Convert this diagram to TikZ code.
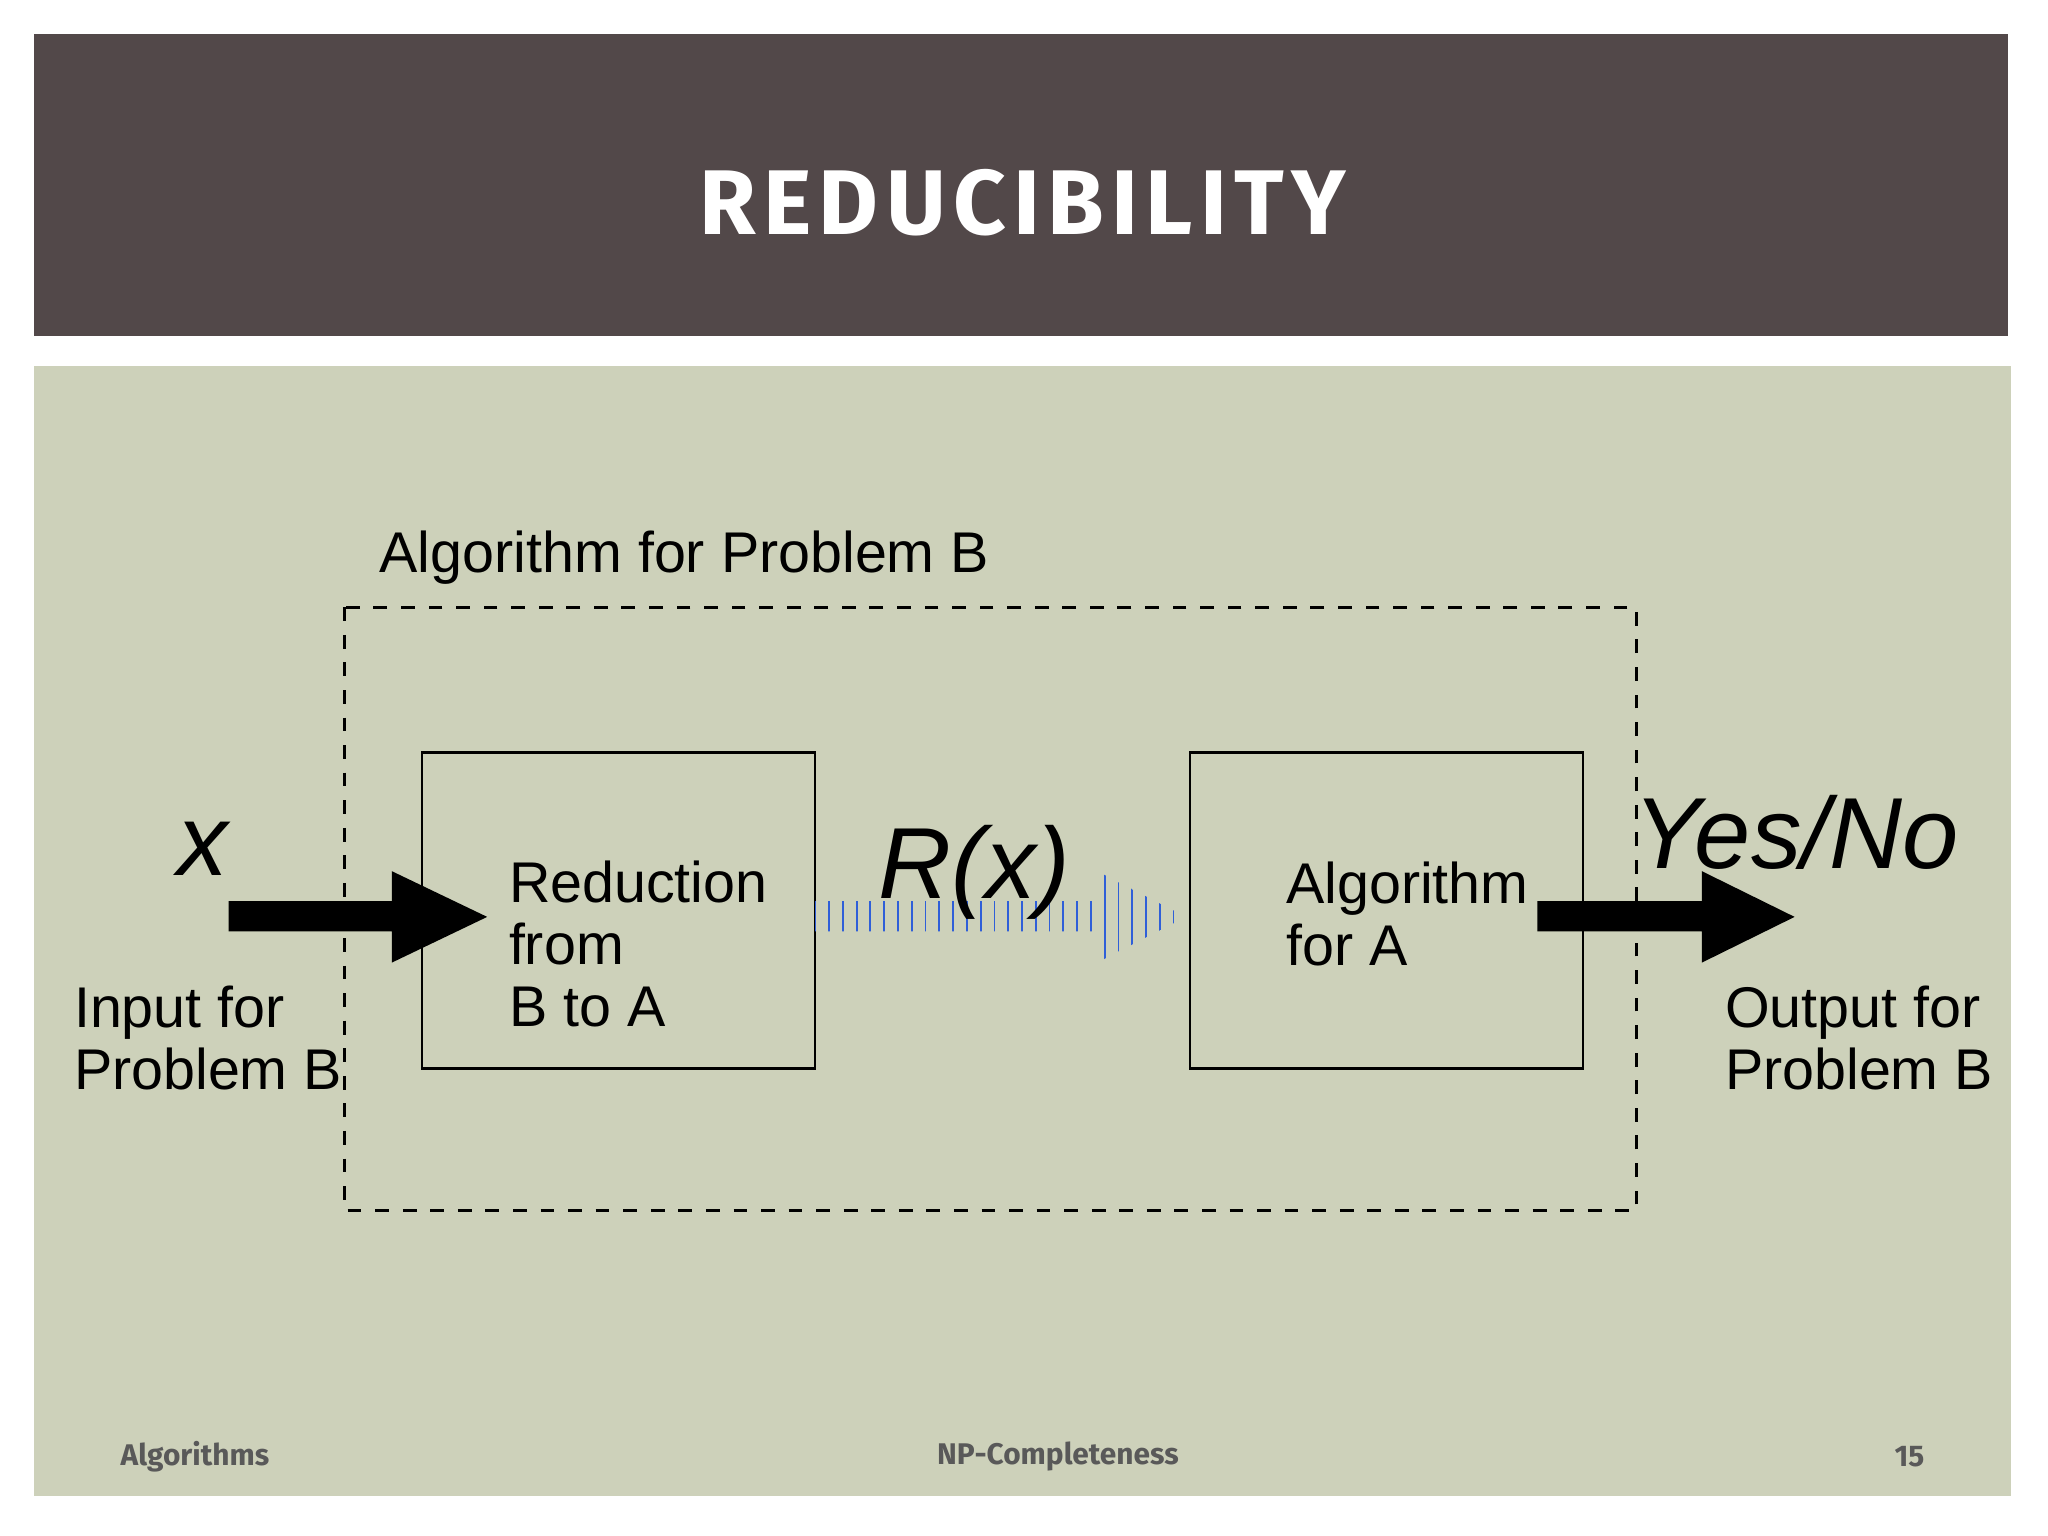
\documentclass[tikz,border=0pt]{standalone}
\usepackage{fontspec}
\setmainfont{Liberation Sans}
\newfontfamily\ttl[LetterSpace=8]{Fira Sans}
\newfontfamily\ftr{Fira Sans}
\usetikzlibrary{patterns}
\definecolor{band}{HTML}{524849}
\definecolor{panel}{HTML}{CDD1BA}
\definecolor{hatch}{HTML}{2F5FD8}
\begin{document}
\begin{tikzpicture}[x=0.01cm,y=-0.01cm,
  box/.style={draw=black,line width=0.6pt},
  lbl/.style={anchor=west,align=left,font=\fontsize{12.5}{13.5}\selectfont,inner sep=0pt},
  mth/.style={font=\fontsize{22}{24}\selectfont\itshape\rmfamily},
  foot/.style={font=\ftr\fontsize{6.5}{8}\selectfont\bfseries,text=black!65}]
\useasboundingbox (0,0) rectangle (1568,1176);
\fill[band] (26,26) rectangle (1537,257);
\node[text=white,font=\ttl\fontsize{20}{24}\selectfont\bfseries] (title) at (783,155) {REDUCIBILITY};
\fill[panel] (26,280) rectangle (1540,1145);
\draw[dashed,line width=0.6pt] (264,465) rectangle (1253,927);
\node[lbl,anchor=base west] (alg) at (290,438) {Algorithm for Problem B};
\draw[box] (323,576) rectangle (624,818);
\coordinate (b1) at (389,723);
\node[lbl] (red) at (b1) {Reduction\\from\\B to A};
\draw[box] (911,576) rectangle (1212,818);
\node[lbl] (alga) at (984,700) {Algorithm\\for A};
\fill[black] (175,690) -- (300,690) -- (300,667) -- (373,702) -- (300,737) -- (300,713) -- (175,713) -- cycle;
\fill[black] (1177,690) -- (1303,690) -- (1303,667) -- (1374,702) -- (1303,737) -- (1303,713) -- (1177,713) -- cycle;
\fill[pattern=vertical lines,pattern color=hatch] (624,690) -- (840,690) -- (840,667) -- (908,702) -- (840,737) -- (840,713) -- (624,713) -- cycle;
\node[mth] (x) at (155,650) {x};
\node[mth] (rx) at (746,668) {R(x)};
\node[mth] (yn) at (1375,637) {Yes/No};
\node[lbl] (in) at (56,795) {Input for\\Problem B};
\node[lbl] (out) at (1320,795) {Output for\\Problem B};
\node[foot,anchor=west] (f1) at (80,1115) {Algorithms};
\node[foot] (f2) at (810,1115) {NP-Completeness};
\node[foot] (f3) at (1462,1115) {15};
\end{tikzpicture}
\end{document}
